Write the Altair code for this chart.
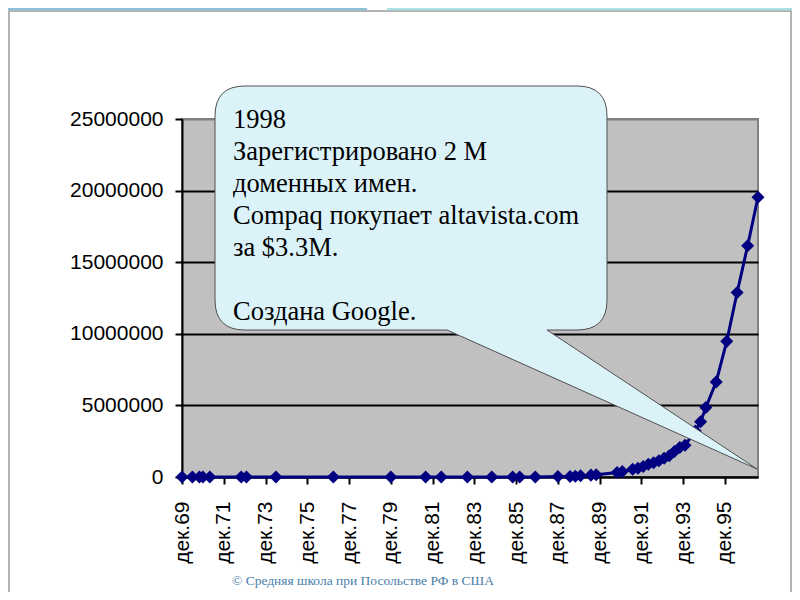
import altair as alt
import pandas as pd

# Internet hosts (Hobbes' Internet Timeline)
dates = ["1969-12", "1970-06", "1970-10", "1970-12", "1971-04", "1972-10", "1973-01",
         "1974-06", "1977-03", "1979-12", "1981-08", "1982-05", "1983-08", "1984-10",
         "1985-10", "1986-02", "1986-11", "1987-12", "1988-07", "1988-10", "1989-01",
         "1989-07", "1989-10", "1990-10", "1991-01", "1991-07", "1991-10", "1992-01",
         "1992-04", "1992-07", "1992-10", "1993-01", "1993-04", "1993-07", "1993-10",
         "1994-01", "1994-07", "1994-10", "1995-01", "1995-07", "1996-01", "1996-07",
         "1997-01", "1997-07"]
hosts = [4, 9, 11, 13, 23, 31, 35,
         62, 111, 188, 213, 235, 562, 1024,
         1961, 2308, 5089, 28174, 33000, 56000, 80000,
         130000, 159000, 313000, 376000, 535000, 617000, 727000,
         890000, 992000, 1136000, 1313000, 1486000, 1776000, 2056000,
         2217000, 3212000, 3864000, 4852000, 6642000, 9472000, 12881000,
         16146000, 19540000]

x_tick_years = list(range(1969, 1997, 2))
y_ticks = [0, 5000000, 10000000, 15000000, 20000000, 25000000]
callout_lines = ["1998", "Зарегистрировано 2 М", "доменных имен.",
                 "Compaq покупает altavista.com", "за $3.3М."]
callout_last = "Создана Google."
footer_text = "© Средняя школа при Посольстве РФ в США"

df = pd.DataFrame({"date": pd.to_datetime([d + "-01" for d in dates]), "hosts": hosts})
one = alt.Data(values=[{"k": 0}])

W, H = 576, 358
NAVY = "#000080"

x_enc = alt.X(
    "date:T",
    title=None,
    scale=alt.Scale(domain=[alt.DateTime(year=1969, month=12, date=1),
                            alt.DateTime(year=1997, month=7, date=1)], nice=False),
    axis=alt.Axis(
        values=[alt.DateTime(year=y, month=12, date=1) for y in x_tick_years],
        labelExpr="'дек.' + timeFormat(datum.value, '%y')",
        labelAngle=270, labelFontSize=21, labelFont="Liberation Sans", labelColor="black",
        labelPadding=17, labelOverlap=False, labelFlush=False,
        tickSize=7, tickWidth=2, tickColor="black",
        domainColor="black", domainWidth=2, grid=False,
    ),
)
y_enc = alt.Y(
    "hosts:Q",
    title=None,
    scale=alt.Scale(domain=[0, 25000000], nice=False),
    axis=alt.Axis(
        values=y_ticks, format="d",
        labelFontSize=21, labelFont="Liberation Sans", labelColor="black",
        labelPadding=12, tickSize=7, tickWidth=2, tickColor="black",
        domainColor="black", domainWidth=2,
        grid=True, gridWidth=2,
        gridColor={"condition": {"test": "datum.value >= 25000000", "value": "#808080"},
                   "value": "black"},
    ),
)

line = alt.Chart(df).mark_line(color=NAVY, strokeWidth=3).encode(x=x_enc, y=y_enc)
points = alt.Chart(df).mark_point(shape="diamond", filled=True, size=170, color=NAVY,
                                  opacity=1).encode(x="date:T", y="hosts:Q")

# slide decoration
card = alt.Chart(one).mark_rect(fillOpacity=0, stroke="#9A9A9A", strokeWidth=1.5).encode(
    x=alt.value(-173), x2=alt.value(609), y=alt.value(-108), y2=alt.value(520))
strip_blue = alt.Chart(one).mark_rect(color="#8CC3DB").encode(
    x=alt.value(-174), x2=alt.value(185), y=alt.value(-111), y2=alt.value(-108.8))
strip_teal = alt.Chart(one).mark_rect(color="#A9E0E4").encode(
    x=alt.value(205), x2=alt.value(610), y=alt.value(-111), y2=alt.value(-108.8))

# callout bubble (path in pixels relative to its top-left corner; size=4 -> scale 1)
bubble_path = ("M30,0 L362,0 Q392,0 392,30 L392,214 Q392,244 362,244 L332,244 "
               "L542,383 L232,244 L30,244 Q0,244 0,214 L0,30 Q0,0 30,0 Z")
bubble = alt.Chart(one).mark_point(shape=bubble_path, size=4, filled=True, fill="#DBF3F8",
                                   stroke="#505050", strokeWidth=1, opacity=1).encode(
    x=alt.value(33), y=alt.value(-33))
text_style = dict(align="left", baseline="alphabetic", font="Liberation Serif",
                  fontSize=26.5, lineHeight=32, color="black")
bubble_text = alt.Chart(one).mark_text(**text_style).encode(
    x=alt.value(51), y=alt.value(9), text=alt.value(callout_lines))
bubble_text2 = alt.Chart(one).mark_text(**text_style).encode(
    x=alt.value(51), y=alt.value(201), text=alt.value(callout_last))

footer = alt.Chart(one).mark_text(align="left", baseline="alphabetic",
                                  font="Liberation Serif", fontSize=13.5,
                                  color="#4A7EA8").encode(
    x=alt.value(50), y=alt.value(466), text=alt.value(footer_text))

chart = alt.layer(card, strip_blue, strip_teal, line, points, bubble, bubble_text,
                  bubble_text2, footer).properties(
    width=W, height=H,
    autosize=alt.AutoSizeParams(type="none"),
    padding={"left": 174, "top": 111, "right": 34, "bottom": 115},
    background="white",
).configure_view(fill="#C0C0C0", stroke="#808080", strokeWidth=2)

chart.save("out.html", embed_options={"renderer": "svg", "actions": False})
